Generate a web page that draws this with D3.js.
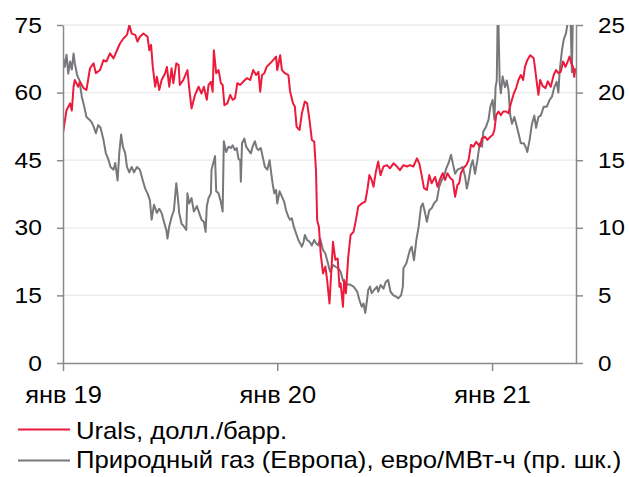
<!DOCTYPE html>
<html>
<head>
<meta charset="utf-8">
<script src="https://cdn.jsdelivr.net/npm/d3@7"></script>
<style>
  html, body { margin: 0; padding: 0; background: #fff; }
  svg { display: block; font-family: "Liberation Sans", Arial, sans-serif; }
</style>
</head>
<body>
<svg id="chart" width="629" height="477"></svg>
<script>
// Urals crude, USD per barrel (left axis)
const uralsDates = [
  "2019-01-01","2019-01-07","2019-01-13","2019-01-16","2019-01-19","2019-01-21","2019-01-27","2019-01-30",
  "2019-02-05","2019-02-10","2019-02-16","2019-02-22","2019-02-26","2019-03-05","2019-03-11","2019-03-16",
  "2019-03-22","2019-03-28","2019-04-03","2019-04-08","2019-04-14","2019-04-20","2019-04-24","2019-04-28",
  "2019-05-04","2019-05-08","2019-05-12","2019-05-18","2019-05-25","2019-05-28","2019-05-31","2019-06-03",
  "2019-06-07","2019-06-10","2019-06-14","2019-06-18","2019-06-24","2019-06-27","2019-07-01","2019-07-05",
  "2019-07-08","2019-07-13","2019-07-17","2019-07-19","2019-07-25","2019-08-01","2019-08-04","2019-08-08",
  "2019-08-14","2019-08-20","2019-08-25","2019-08-29","2019-09-03","2019-09-06","2019-09-10","2019-09-13",
  "2019-09-15","2019-09-19","2019-09-23","2019-09-27","2019-09-30","2019-10-03","2019-10-08","2019-10-13",
  "2019-10-17","2019-10-21","2019-10-25","2019-10-30","2019-11-04","2019-11-10","2019-11-16","2019-11-21",
  "2019-11-26","2019-11-30","2019-12-03","2019-12-06","2019-12-10","2019-12-14","2019-12-20","2019-12-25",
  "2019-12-30","2020-01-01","2020-01-06","2020-01-09","2020-01-14","2020-01-20","2020-01-23","2020-01-28",
  "2020-01-31","2020-02-03","2020-02-08","2020-02-12","2020-02-17","2020-02-21","2020-02-25","2020-02-29",
  "2020-03-04","2020-03-07","2020-03-09","2020-03-12","2020-03-15","2020-03-19","2020-03-23","2020-03-26",
  "2020-03-30","2020-04-05","2020-04-09","2020-04-13","2020-04-16","2020-04-18","2020-04-22","2020-04-24",
  "2020-04-27","2020-05-01","2020-05-05","2020-05-10","2020-05-14","2020-05-18","2020-05-24","2020-05-30",
  "2020-06-03","2020-06-06","2020-06-10","2020-06-13","2020-06-17","2020-06-21","2020-06-25","2020-06-30",
  "2020-07-06","2020-07-11","2020-07-17","2020-07-23","2020-07-28","2020-08-03","2020-08-09","2020-08-14",
  "2020-08-20","2020-08-26","2020-08-30","2020-09-03","2020-09-07","2020-09-12","2020-09-16","2020-09-20",
  "2020-09-26","2020-09-30","2020-10-05","2020-10-09","2020-10-13","2020-10-17","2020-10-22","2020-10-26",
  "2020-10-30","2020-11-03","2020-11-06","2020-11-09","2020-11-13","2020-11-18","2020-11-22","2020-11-26",
  "2020-11-30","2020-12-05","2020-12-11","2020-12-15","2020-12-20","2020-12-24","2020-12-29","2021-01-02",
  "2021-01-05","2021-01-08","2021-01-12","2021-01-16","2021-01-20","2021-01-25","2021-01-29","2021-02-02",
  "2021-02-07","2021-02-11","2021-02-15","2021-02-19","2021-02-23","2021-02-26","2021-03-02","2021-03-07",
  "2021-03-13","2021-03-16","2021-03-18","2021-03-21","2021-03-24","2021-03-28","2021-04-02","2021-04-06",
  "2021-04-11","2021-04-16","2021-04-20","2021-04-24","2021-04-28","2021-05-02","2021-05-06","2021-05-10",
  "2021-05-13","2021-05-16","2021-05-19","2021-05-21","2021-05-23"
];
const uralsValues = [
  51, 56.1, 57.6, 56, 61.3, 62.8, 61.3, 62.4,
  61, 60.6, 65.4, 66.5, 64.3, 65, 67.2, 66.9,
  68.7, 67.6, 69.4, 70.9, 72, 72.8, 75, 73.1,
  72.8, 71.3, 72.4, 73.1, 72.4, 69.4, 70.6, 65.7,
  61.3, 63.5, 60.6, 62.8, 64.3, 65.7, 61.3, 65.4,
  62.1, 66.5, 66.1, 61.7, 62.8, 65, 61, 56.5,
  59.5, 61.3, 59.8, 61.3, 58.4, 61.7, 62.4, 60.2,
  69.4, 64.3, 65, 62.1, 61.7, 57.2, 57.6, 59.5,
  58.4, 58.7, 62.1, 61.7, 62.4, 63.2, 62.8, 65,
  63.9, 64.6, 60.2, 63.9, 64.3, 65.7, 66.5, 67.2,
  68, 65, 68.3, 65, 64.3, 63.9, 60.2, 57.6,
  56.9, 52.4, 51.7, 55.4, 58, 57.6, 53.9, 49.5,
  49.1, 42.8, 31.7, 30.2, 24.3, 19.9, 21.4, 18.4,
  13.2, 26.9, 22.9, 23.2, 16.9, 17.7, 12.5, 18.4,
  15.5, 23.6, 28.4, 29.1, 31.7, 34.7, 35.4, 35.8,
  38.8, 41.7, 40.6, 39.1, 42.4, 44.7, 41.7, 43.6,
  43.9, 43.2, 44.3, 43.6, 42.8, 43.9, 43.6, 43.9,
  43.6, 45.4, 44.3, 41.7, 38.8, 38.4, 41.7, 39.9,
  41.3, 39.1, 41, 42.1, 40.6, 42.1, 41, 40.6,
  36.9, 39.5, 39.9, 42.1, 43.2, 43.9, 45, 48.4,
  48, 49.1, 48, 49.9, 50.2, 49.5, 50.2, 50.6,
  51.7, 55, 55.8, 55, 55.8, 55.8, 55.4, 57.6,
  59.8, 61, 62.8, 63.9, 62.8, 65.7, 67.2, 68.3,
  67.6, 64.6, 62.4, 59.5, 62.8, 61.5, 61, 62.5,
  61.3, 63.9, 65, 64.3, 64.6, 66.9, 65.7, 66.9,
  68, 66.5, 65.7, 63.5, 65.4
];

// European natural gas, EUR per MWh (right axis)
const gasDates = [
  "2019-01-01","2019-01-04","2019-01-07","2019-01-10","2019-01-13","2019-01-16","2019-01-19","2019-01-21",
  "2019-01-25","2019-01-29","2019-02-02","2019-02-06","2019-02-10","2019-02-15","2019-02-19","2019-02-22",
  "2019-02-26","2019-03-02","2019-03-06","2019-03-11","2019-03-15","2019-03-19","2019-03-23","2019-03-28",
  "2019-03-31","2019-04-04","2019-04-07","2019-04-10","2019-04-13","2019-04-17","2019-04-20","2019-04-24",
  "2019-04-28","2019-05-02","2019-05-07","2019-05-12","2019-05-17","2019-05-21","2019-05-25","2019-05-29",
  "2019-06-01","2019-06-05","2019-06-10","2019-06-14","2019-06-18","2019-06-22","2019-06-26","2019-06-28",
  "2019-07-01","2019-07-05","2019-07-09","2019-07-13","2019-07-15","2019-07-18","2019-07-22","2019-07-26",
  "2019-07-30","2019-08-01","2019-08-04","2019-08-08","2019-08-12","2019-08-17","2019-08-21","2019-08-25",
  "2019-08-29","2019-09-01","2019-09-03","2019-09-06","2019-09-10","2019-09-11","2019-09-14","2019-09-17",
  "2019-09-19","2019-09-23","2019-09-27","2019-09-30","2019-10-02","2019-10-06","2019-10-10","2019-10-14",
  "2019-10-17","2019-10-21","2019-10-24","2019-10-27","2019-10-30","2019-10-31","2019-11-02","2019-11-06",
  "2019-11-09","2019-11-13","2019-11-17","2019-11-20","2019-11-24","2019-11-27","2019-11-30","2019-12-04",
  "2019-12-07","2019-12-11","2019-12-15","2019-12-19","2019-12-21","2019-12-24","2019-12-27","2019-12-30",
  "2020-01-01","2020-01-05","2020-01-09","2020-01-13","2020-01-16","2020-01-20","2020-01-23","2020-01-26",
  "2020-01-29","2020-02-02","2020-02-06","2020-02-09","2020-02-12","2020-02-15","2020-02-17","2020-02-21",
  "2020-02-25","2020-02-29","2020-03-04","2020-03-07","2020-03-11","2020-03-14","2020-03-19","2020-03-23",
  "2020-03-26","2020-03-31","2020-04-05","2020-04-10","2020-04-14","2020-04-18","2020-04-22","2020-04-26",
  "2020-04-30","2020-05-04","2020-05-10","2020-05-16","2020-05-20","2020-05-24","2020-05-27","2020-05-30",
  "2020-06-02","2020-06-04","2020-06-07","2020-06-10","2020-06-14","2020-06-19","2020-06-21","2020-06-25",
  "2020-06-30","2020-07-04","2020-07-08","2020-07-12","2020-07-17","2020-07-22","2020-07-25","2020-07-30",
  "2020-08-02","2020-08-03","2020-08-08","2020-08-11","2020-08-14","2020-08-17","2020-08-21","2020-08-25",
  "2020-08-29","2020-09-02","2020-09-05","2020-09-09","2020-09-12","2020-09-16","2020-09-20","2020-09-24",
  "2020-09-29","2020-10-03","2020-10-07","2020-10-11","2020-10-15","2020-10-19","2020-10-23","2020-10-26",
  "2020-10-30","2020-11-03","2020-11-08","2020-11-12","2020-11-16","2020-11-19","2020-11-22","2020-11-26",
  "2020-11-29","2020-12-03","2020-12-07","2020-12-11","2020-12-15","2020-12-17","2020-12-22","2020-12-26",
  "2020-12-29","2021-01-02","2021-01-05","2021-01-07","2021-01-09","2021-01-11","2021-01-14","2021-01-16",
  "2021-01-19","2021-01-23","2021-01-26","2021-01-29","2021-02-01","2021-02-04","2021-02-08","2021-02-11",
  "2021-02-15","2021-02-19","2021-02-24","2021-02-28","2021-03-02","2021-03-06","2021-03-10","2021-03-14",
  "2021-03-17","2021-03-21","2021-03-25","2021-03-30","2021-04-04","2021-04-09","2021-04-13","2021-04-17",
  "2021-04-21","2021-04-24","2021-04-26","2021-04-30","2021-05-03","2021-05-07","2021-05-11","2021-05-14",
  "2021-05-17","2021-05-19","2021-05-23"
];
const gasValues = [
  22.65, 21.9, 22.8, 21.4, 22.3, 21.7, 22.9, 22.2,
  21.3, 20.9, 19.7, 19, 18.2, 18, 17.8, 17.5,
  17, 17.6, 17.4, 16.5, 15.5, 15.1, 14.5, 14.3,
  14.8, 13.5, 15.6, 16.9, 16, 15.5, 14.5, 14.1,
  14.5, 14.1, 14.5, 14.3, 13.5, 12.9, 12.55, 12.05,
  10.6, 11.7, 11.1, 11.4, 11.1, 10.45, 9.84, 9.2,
  10.1, 10.8, 11.3, 13.3, 12.55, 11.1, 10.3, 10.1,
  9.84, 12.55, 11.8, 12.2, 11.2, 11.6, 11.1, 10.6,
  10.45, 9.7, 11.6, 12.2, 12.55, 14.3, 14.8, 15.3,
  12.7, 12.55, 11.9, 11.2, 16.4, 15.6, 16, 15.9,
  16.1, 15.75, 15.9, 15.1, 15, 13.4, 16.25, 16.6,
  16, 15.75, 15.5, 16, 16.4, 15.9, 15.75, 15.9,
  15.3, 14.5, 14.3, 15, 14.3, 13.3, 12.55, 12.8,
  11.8, 12.7, 12.3, 11.9, 11.3, 10.8, 10.6, 10.7,
  10.1, 9.6, 9.1, 8.85, 8.6, 8.97, 9.47, 9.1,
  8.97, 8.7, 9.1, 8.85, 8.7, 9.2, 8.36, 8.1,
  7.6, 6.75, 7.25, 7.1, 7, 6.75, 6.1, 5.9,
  5.8, 5.8, 5.65, 5.3, 4.66, 4.16, 4.4, 3.7,
  4.66, 5.4, 5.65, 5.16, 5.4, 5.65, 5.27, 5.77,
  5.5, 6, 6.14, 5.27, 5, 4.9, 4.78, 5,
  5.65, 7, 7.37, 7.86, 8.36, 8.6, 7.6, 9.1,
  10.1, 11.56, 11.8, 11.07, 10.45, 11.3, 11.44, 11.8,
  12.05, 13.04, 13.5, 13.8, 14.4, 14.8, 15.4, 14.8,
  14, 14.3, 14.4, 14.5, 13.8, 12.9, 13.5, 14.6,
  15, 14, 15, 16.25, 16, 17.1, 17.5, 18,
  18.95, 19.45, 18, 20.4, 20.9, 27, 20.7, 19.95,
  21.2, 20.4, 20.9, 20.2, 18.3, 17.7, 18.2, 17.7,
  17, 16.25, 16.25, 15.9, 15.6, 16.5, 17.7, 18.3,
  17.4, 18.2, 18.3, 18.95, 18.95, 19.45, 19.7, 20.4,
  20.8, 20, 21.5, 23.1, 23.9, 24.4, 25.5, 26.5,
  21.5, 26.5, 26.5
];

const leftTicks = [0, 15, 30, 45, 60, 75];
const rightTicks = [0, 5, 10, 15, 20, 25];
const xTickDates = ["2019-01-01", "2020-01-01", "2021-01-01"];
const xTickLabels = ["янв 19", "янв 20", "янв 21"];
const seriesNames = ["Urals, долл./барр.", "Природный газ (Европа), евро/МВт-ч (пр. шк.)"];
const seriesColors = ["#ec1b3c", "#77787b"];

(function draw() {
  const parse = d3.timeParse("%Y-%m-%d");
  const urals = uralsDates.map((d, i) => ({ date: parse(d), value: uralsValues[i] }));
  const gas = gasDates.map((d, i) => ({ date: parse(d), value: gasValues[i] }));

  const svg = d3.select("#chart");
  const m = { left: 63, right: 576, top: 25, bottom: 363 };
  const axisColor = "#8a8a8a";

  const x = d3.scaleTime()
    .domain([parse("2019-01-01"), parse("2021-05-24")])
    .range([m.left, m.right]);
  const yL = d3.scaleLinear().domain([0, 75]).range([m.bottom, m.top]);
  const yR = d3.scaleLinear().domain([0, 25]).range([m.bottom, m.top]);

  // horizontal gridlines
  svg.append("g")
    .selectAll("line")
    .data(leftTicks.filter(v => v > 0))
    .join("line")
    .attr("x1", m.left).attr("x2", m.right)
    .attr("y1", d => yL(d)).attr("y2", d => yL(d))
    .attr("stroke", "#ebebeb").attr("stroke-width", 1.3);

  // plot-area clip so spikes beyond the scale are cut at the top
  svg.append("clipPath").attr("id", "plotClip")
    .append("rect")
    .attr("x", m.left).attr("y", m.top)
    .attr("width", m.right - m.left).attr("height", m.bottom - m.top);

  const lineL = d3.line().x(d => x(d.date)).y(d => yL(d.value));
  const lineR = d3.line().x(d => x(d.date)).y(d => yR(d.value));

  const plot = svg.append("g").attr("clip-path", "url(#plotClip)");
  plot.append("path").datum(gas)
    .attr("d", lineR).attr("fill", "none")
    .attr("stroke", seriesColors[1]).attr("stroke-width", 2)
    .attr("stroke-linejoin", "round");
  plot.append("path").datum(urals)
    .attr("d", lineL).attr("fill", "none")
    .attr("stroke", seriesColors[0]).attr("stroke-width", 2)
    .attr("stroke-linejoin", "round");

  // the label face is slightly wider than Liberation Sans, so stretch horizontally
  function styleAxis(g, size, sx) {
    g.attr("font-family", null).attr("font-size", size);
    g.select(".domain").attr("stroke", axisColor).attr("stroke-width", 1.5);
    g.selectAll(".tick line").attr("stroke", axisColor).attr("stroke-width", 1.5);
    g.selectAll(".tick text")
      .attr("fill", "#000")
      .attr("x", function () { return (+d3.select(this).attr("x") || 0) / sx; })
      .attr("transform", `scale(${sx},1)`);
  }

  // left axis
  svg.append("g")
    .attr("transform", `translate(${m.left},0)`)
    .call(d3.axisLeft(yL).tickValues(leftTicks).tickSize(6).tickSizeOuter(0).tickPadding(15))
    .call(styleAxis, 22, 1.12);

  // right axis
  svg.append("g")
    .attr("transform", `translate(${m.right},0)`)
    .call(d3.axisRight(yR).tickValues(rightTicks).tickSize(7).tickSizeOuter(0).tickPadding(15))
    .call(styleAxis, 22, 1.1);

  // bottom axis
  const xFmt = new Map(xTickDates.map((d, i) => [+parse(d), xTickLabels[i]]));
  svg.append("g")
    .attr("transform", `translate(0,${m.bottom})`)
    .call(d3.axisBottom(x).tickValues(xTickDates.map(parse)).tickSize(8).tickSizeOuter(0).tickPadding(15)
      .tickFormat(d => xFmt.get(+d)))
    .call(styleAxis, 24, 1.06);

  // legend
  const legend = svg.append("g");
  const legendY = [429.5, 460.5];
  const legendBase = [439, 468];
  seriesNames.forEach((name, i) => {
    legend.append("line")
      .attr("x1", 18).attr("x2", 70)
      .attr("y1", legendY[i]).attr("y2", legendY[i])
      .attr("stroke", seriesColors[i]).attr("stroke-width", 2);
    legend.append("text")
      .attr("transform", `translate(76,${legendBase[i]}) scale(1.07,1)`)
      .attr("font-size", 24).attr("fill", "#000")
      .text(name);
  });
})();
</script>
</body>
</html>
